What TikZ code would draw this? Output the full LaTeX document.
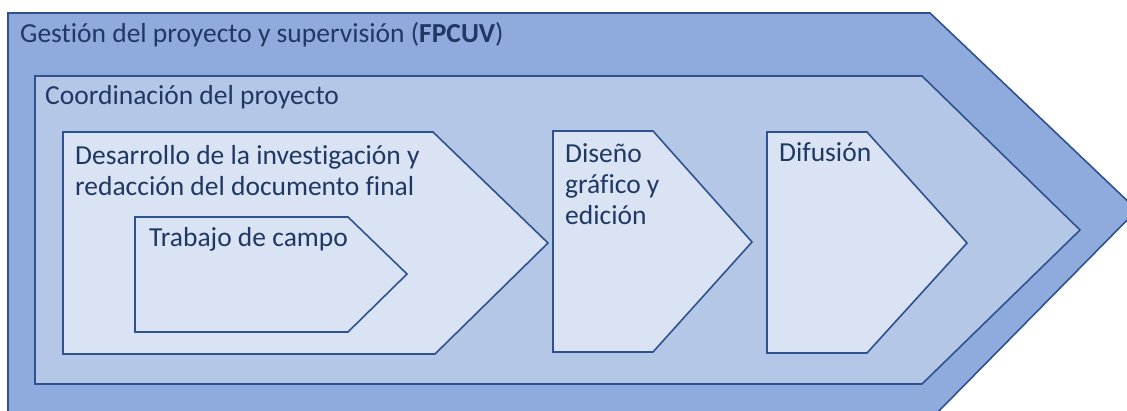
\documentclass[tikz,border=0pt]{standalone}
\usepackage{fontspec}
\setmainfont{Carlito}[Ligatures=NoCommon]
\usepackage{xcolor}
\definecolor{edge}{HTML}{2F528F}
\definecolor{ink}{HTML}{1F3864}
\definecolor{outerfill}{HTML}{8FAADC}
\definecolor{midfill}{HTML}{B4C7E7}
\definecolor{innerfill}{HTML}{DAE3F3}

\begin{document}
\begin{tikzpicture}[x=1pt,y=-1pt,
    stage/.style={draw=edge, line width=1.6pt, line join=miter},
    label/.style={inner sep=0pt, anchor=base west, text=ink, align=left,
      font=\fontsize{27.5}{31}\selectfont}]
    \useasboundingbox (0,0) rectangle (1127,411);
    \clip (0,0) rectangle (1127,411);
    % outer chevron
    \draw [stage, fill=outerfill] (8,13) -- (930,13) -- (1137,210) -- (930,420) -- (8,420) -- cycle;
    \node (gestion) [label] at (20,43) {Gestión del proyecto y supervisión (\textbf{FPCUV})};
    % coordination
    \draw [stage, fill=midfill] (35,76) -- (922,76) -- (1080,230) -- (922,384) -- (35,384) -- cycle;
    \node (coord) [label] at (45,105) {Coordinación del proyecto};
    % research (base anchor sits on the last line)
    \draw [stage, fill=innerfill] (63,132) -- (433,132) -- (548,243) -- (435,354) -- (63,354) -- cycle;
    \node (desarrollo) [label] at (75,196) {Desarrollo de la investigación y\\redacción del documento final};
    \draw [stage, fill=innerfill] (135,217) -- (348,217) -- (407,274) -- (348,332) -- (135,332) -- cycle;
    \node (campo) [label] at (149,247) {Trabajo de campo};
    % design
    \draw [stage, fill=innerfill] (553,131) -- (653,131) -- (752,242) -- (653,352) -- (553,352) -- cycle;
    \node (diseno) [label] at (565,225) {Diseño\\gráfico y\\edición};
    % dissemination
    \draw [stage, fill=innerfill] (767,132) -- (867,132) -- (967,243) -- (867,353) -- (767,353) -- cycle;
    \node (difusion) [label] at (779,162) {Difusión};
\end{tikzpicture}
\end{document}
